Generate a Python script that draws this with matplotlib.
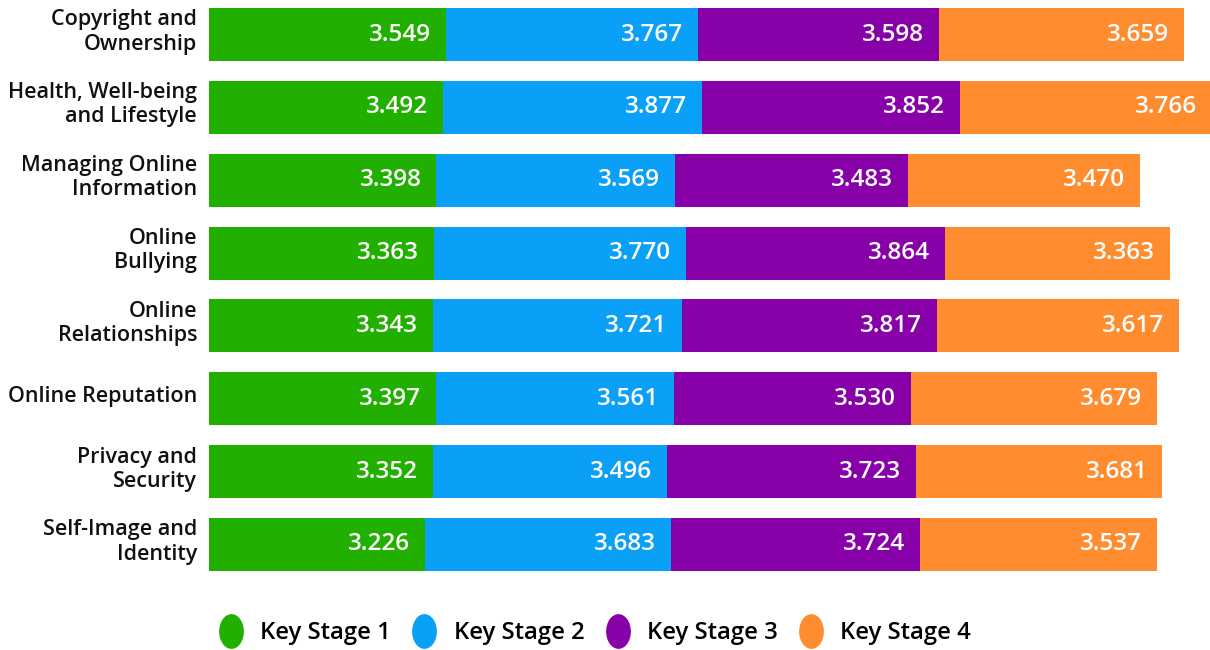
import matplotlib
matplotlib.use("Agg")
import matplotlib.pyplot as plt
from matplotlib.path import Path
from matplotlib.lines import Line2D
from matplotlib.transforms import ScaledTranslation, blended_transform_factory
import numpy as np

plt.rcParams['font.family'] = ['Open Sans', 'DejaVu Sans']

categories = [
    "Copyright and\nOwnership",
    "Health, Well-being\nand Lifestyle",
    "Managing Online\nInformation",
    "Online\nBullying",
    "Online\nRelationships",
    "Online Reputation",
    "Privacy and\nSecurity",
    "Self-Image and\nIdentity",
]
series_names = ["Key Stage 1", "Key Stage 2", "Key Stage 3", "Key Stage 4"]
ks1 = [3.549, 3.492, 3.398, 3.363, 3.343, 3.397, 3.352, 3.226]
ks2 = [3.767, 3.877, 3.569, 3.770, 3.721, 3.561, 3.496, 3.683]
ks3 = [3.598, 3.852, 3.483, 3.864, 3.817, 3.530, 3.723, 3.724]
ks4 = [3.659, 3.766, 3.470, 3.363, 3.617, 3.679, 3.681, 3.537]
colors = ["#22b000", "#0ba0f7", "#8800a8", "#ff8c2e"]

W, H = 1210, 650
fig = plt.figure(figsize=(W / 100, H / 100), dpi=100)
ax = fig.add_axes([209 / W, 0.1063, 1001 / W, 0.8966])

y = np.arange(len(categories))
left = np.zeros(len(categories))
pad = 15 / 66.9  # label inset from segment end, in data units
for name, vals, c in zip(series_names, [ks1, ks2, ks3, ks4], colors):
    vals = np.array(vals)
    ax.barh(y, vals, left=left, height=0.727, color=c, label=name)
    for yi, l, v in zip(y, left, vals):
        ax.text(l + v - pad, yi, f"{v:.3f}", ha="right", va="center",
                color="white", fontsize=17.5, fontweight=600)
    left += vals

ax.set_xlim(0, 1001 / 66.9)
ax.set_ylim(len(categories) - 0.5, -0.5)
ax.set_xticks([])
ax.set_yticks([])
for s in ax.spines.values():
    s.set_visible(False)

# category labels, right-aligned just left of the bars
lab_tr = blended_transform_factory(ax.transAxes, ax.transData) + \
    ScaledTranslation(-12 / 100, 2.5 / 100, fig.dpi_scale_trans)
for yi, cat in zip(y, categories):
    ax.text(0, yi, cat, transform=lab_tr, ha="right", va="center",
            fontsize=15.5, fontweight=600, linespacing=1.2, color="#111111")

# elliptical legend marker
circ = Path.unit_circle()
ell = Path(circ.vertices * np.array([0.7, 1.0]), circ.codes)
handles = [Line2D([], [], linestyle="none", marker=ell, markersize=24,
                  markerfacecolor=c, markeredgecolor=c) for c in colors]
fig.legend(handles, series_names, loc="center",
           bbox_to_anchor=(595 / W, 1 - 633 / H), ncol=4, frameon=False,
           handlelength=1.0, handletextpad=0.72, columnspacing=0.9,
           prop={"size": 17.2, "weight": 600})

fig.savefig("out.png", dpi=100)
